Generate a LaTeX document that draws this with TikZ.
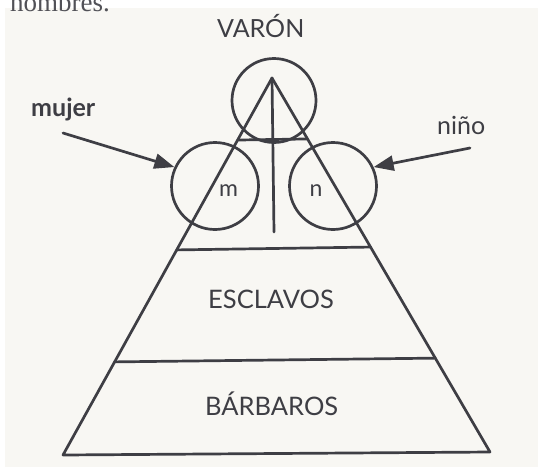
\documentclass[tikz,border=0pt]{standalone}
\usepackage{fontspec}
\setmainfont{Lato}
\newfontfamily\bookfont{Liberation Serif}
\usetikzlibrary{arrows.meta,calc}
\definecolor{ink}{HTML}{3E3E44}
\definecolor{paper}{HTML}{F8F7F3}
\tikzset{
  ln/.style={draw=ink, line width=2.7pt, line join=round, line cap=round},
  ring/.style={circle, draw=ink, line width=2.7pt, minimum size=#1, inner sep=0pt},
  lbl/.style={text=ink, inner sep=0pt, anchor=base west},
  pointer/.style={ln, -{Triangle[length=20pt,width=15pt]}}
}
\begin{document}
\begin{tikzpicture}[x=1pt,y=-1pt]
\useasboundingbox (0,0) rectangle (538,467);
\fill[white] (0,0) rectangle (538,467);
\fill[paper] (5,8) rectangle (538,467);
\begin{scope}
\clip (0,0) rectangle (538,467);
\node[lbl, text=ink!90] (hdr) at (10,11) {\bookfont\fontsize{27}{27}\selectfont hombres.};
\end{scope}
% circles
\node[ring=84pt] (top) at (274,100.5) {};
\node[ring=87pt] (cm) at (215,186) {};
\node[ring=87pt] (cn) at (333,186) {};
% triangle
\coordinate (A) at (272,78);
\coordinate (BL) at (63,455);
\coordinate (BR) at (490,452);
\coordinate (V) at (274,232);
\draw[ln] (A) -- (BL) -- (BR) -- cycle;
\draw[ln] ($(A)!0.1645!(BL)$) -- ($(A)!0.163!(BR)$);
\draw[ln] ($(A)!0.456!(BL)$) -- ($(A)!0.452!(BR)$);
\draw[ln] ($(A)!0.753!(BL)$) -- ($(A)!0.749!(BR)$);
\draw[ln] (A) -- (V);
% labels
\node[lbl] (varon) at (217,37.5) {\fontsize{25}{25}\selectfont VARÓN};
\node[lbl] (escl) at (208,308) {\fontsize{25.5}{25}\selectfont ESCLAVOS};
\node[lbl] (barb) at (205,415) {\fontsize{25.5}{25}\selectfont BÁRBAROS};
\node[lbl] (m) at (219,196.7) {\fontsize{23}{23}\selectfont m};
\node[lbl] (n) at (309.5,196.7) {\fontsize{23}{23}\selectfont n};
\node[lbl] (mujer) at (31,116) {\fontsize{25}{25}\selectfont\bfseries mujer};
\node[lbl] (nino) at (437,134) {\fontsize{25}{25}\selectfont niño};
% arrows
\coordinate (mt) at (63,133);
\coordinate (nt) at (470,148);
\draw[pointer] (mt) -- (cm.155);
\draw[pointer] (nt) -- (cn.25);
\end{tikzpicture}
\end{document}
